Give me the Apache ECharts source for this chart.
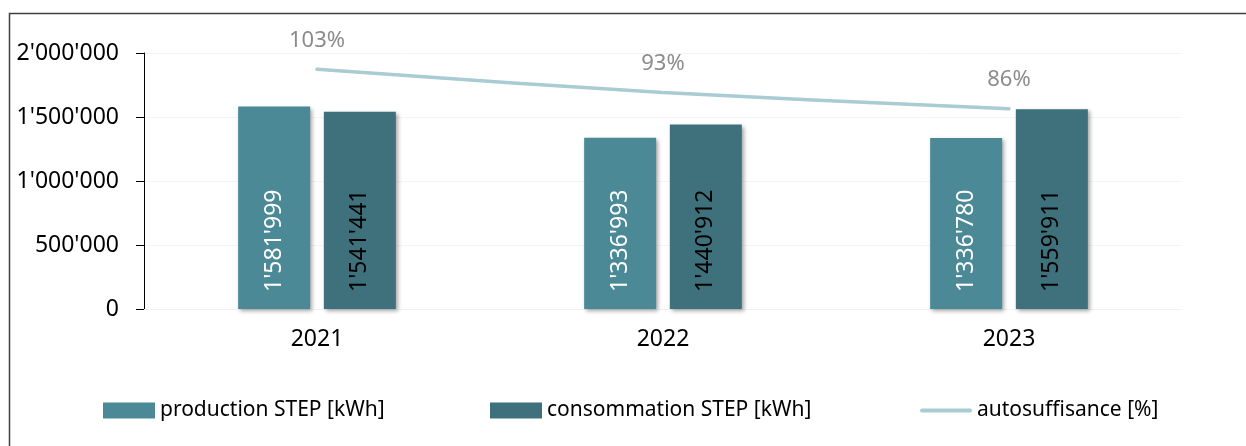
<!DOCTYPE html>
<html>
<head>
    <meta charset="utf-8">
    <title></title>
    <style>
        html, body { margin: 0; padding: 0; background: #fff; }
        #chart { width: 1246px; height: 446px; }
    </style>
</head>
<body>
<div id="chart"></div>
<script src="https://cdn.jsdelivr.net/npm/echarts@6/dist/echarts.min.js"></script>
<script type="text/javascript">
    var years = ['2021', '2022', '2023'];
    var production = [1581999, 1336993, 1336780];
    var consommation = [1541441, 1440912, 1559911];
    var autosuffisance = [103, 93, 86];
    var seriesNames = ['production STEP [kWh]', 'consommation STEP [kWh]', 'autosuffisance [%]'];

    var font = '"Noto Sans", "Open Sans", sans-serif';

    // 1581999 -> 1'581'999
    function apos(v) {
        return String(v).replace(/\B(?=(\d{3})+(?!\d))/g, "'");
    }

    var barLabel = function (color) {
        return {
            show: true,
            position: 'insideBottom',
            rotate: 90,
            align: 'left',
            verticalAlign: 'middle',
            distance: 17,
            color: color,
            fontFamily: font,
            fontSize: 23,
            formatter: function (p) { return apos(p.value); }
        };
    };

    var myChart = echarts.init(document.getElementById('chart'));
    var option = {
        animation: false,
        graphic: [{
            type: 'polyline',
            shape: { points: [[9.5, 446], [9.5, 13.5], [1246, 13.5]] },
            style: { stroke: '#404040', lineWidth: 1.5, fill: null }
        }],
        grid: { left: 144, right: 64, top: 53, bottom: 137 },
        legend: [
            { data: [seriesNames[0]], left: 103, top: 400, icon: 'rect' },
            { data: [seriesNames[1]], left: 490, top: 400, icon: 'rect' },
            { data: [seriesNames[2]], left: 920, top: 400,
              icon: 'path://M2,0 L50,0 A2,2 0 0 1 50,4 L2,4 A2,2 0 0 1 2,0 Z' }
        ].map(function (l) {
            l.padding = 0;
            l.itemWidth = 52;
            l.itemHeight = 16;
            l.itemGap = 4;
            l.textStyle = { fontFamily: font, fontSize: 21, color: '#000' };
            return l;
        }),
        xAxis: {
            type: 'category',
            data: years,
            axisLine: { show: true, lineStyle: { color: '#f2f2f2' } },
            axisTick: { show: false },
            axisLabel: { color: '#000', fontFamily: font, fontSize: 23, margin: 19 }
        },
        yAxis: [{
            type: 'value',
            min: 0,
            max: 2000000,
            interval: 500000,
            axisLine: { show: true, lineStyle: { color: '#000', width: 1 } },
            axisTick: { show: true, length: 8, lineStyle: { color: '#000' } },
            splitLine: { lineStyle: { color: '#f4f4f4' } },
            axisLabel: {
                color: '#000', fontFamily: font, fontSize: 23, margin: 25,
                formatter: function (v) { return apos(v); }
            }
        }, {
            type: 'value',
            min: 0,
            max: 110,
            show: false
        }],
        series: [{
            name: seriesNames[0],
            type: 'bar',
            data: production,
            barWidth: 72,
            barGap: '19%',
            itemStyle: {
                color: '#4a8995',
                shadowBlur: 4, shadowOffsetX: 2, shadowOffsetY: 2,
                shadowColor: 'rgba(0,0,0,0.35)'
            },
            label: barLabel('#fff')
        }, {
            name: seriesNames[1],
            type: 'bar',
            data: consommation,
            barWidth: 72,
            itemStyle: {
                color: '#3e717b',
                shadowBlur: 4, shadowOffsetX: 2, shadowOffsetY: 2,
                shadowColor: 'rgba(0,0,0,0.35)'
            },
            label: barLabel('#000')
        }, {
            name: seriesNames[2],
            type: 'line',
            yAxisIndex: 1,
            data: autosuffisance,
            smooth: 0.3,
            symbol: 'circle',
            symbolSize: 0.01,
            lineStyle: { color: '#a9cbd2', width: 3.5, cap: 'round' },
            itemStyle: { color: '#a9cbd2' },
            label: {
                show: true,
                position: 'top',
                distance: 18,
                color: '#8c8c8c',
                fontFamily: font,
                fontSize: 22,
                formatter: '{c}%'
            }
        }]
    };
    myChart.setOption(option);
</script>
</body>
</html>
